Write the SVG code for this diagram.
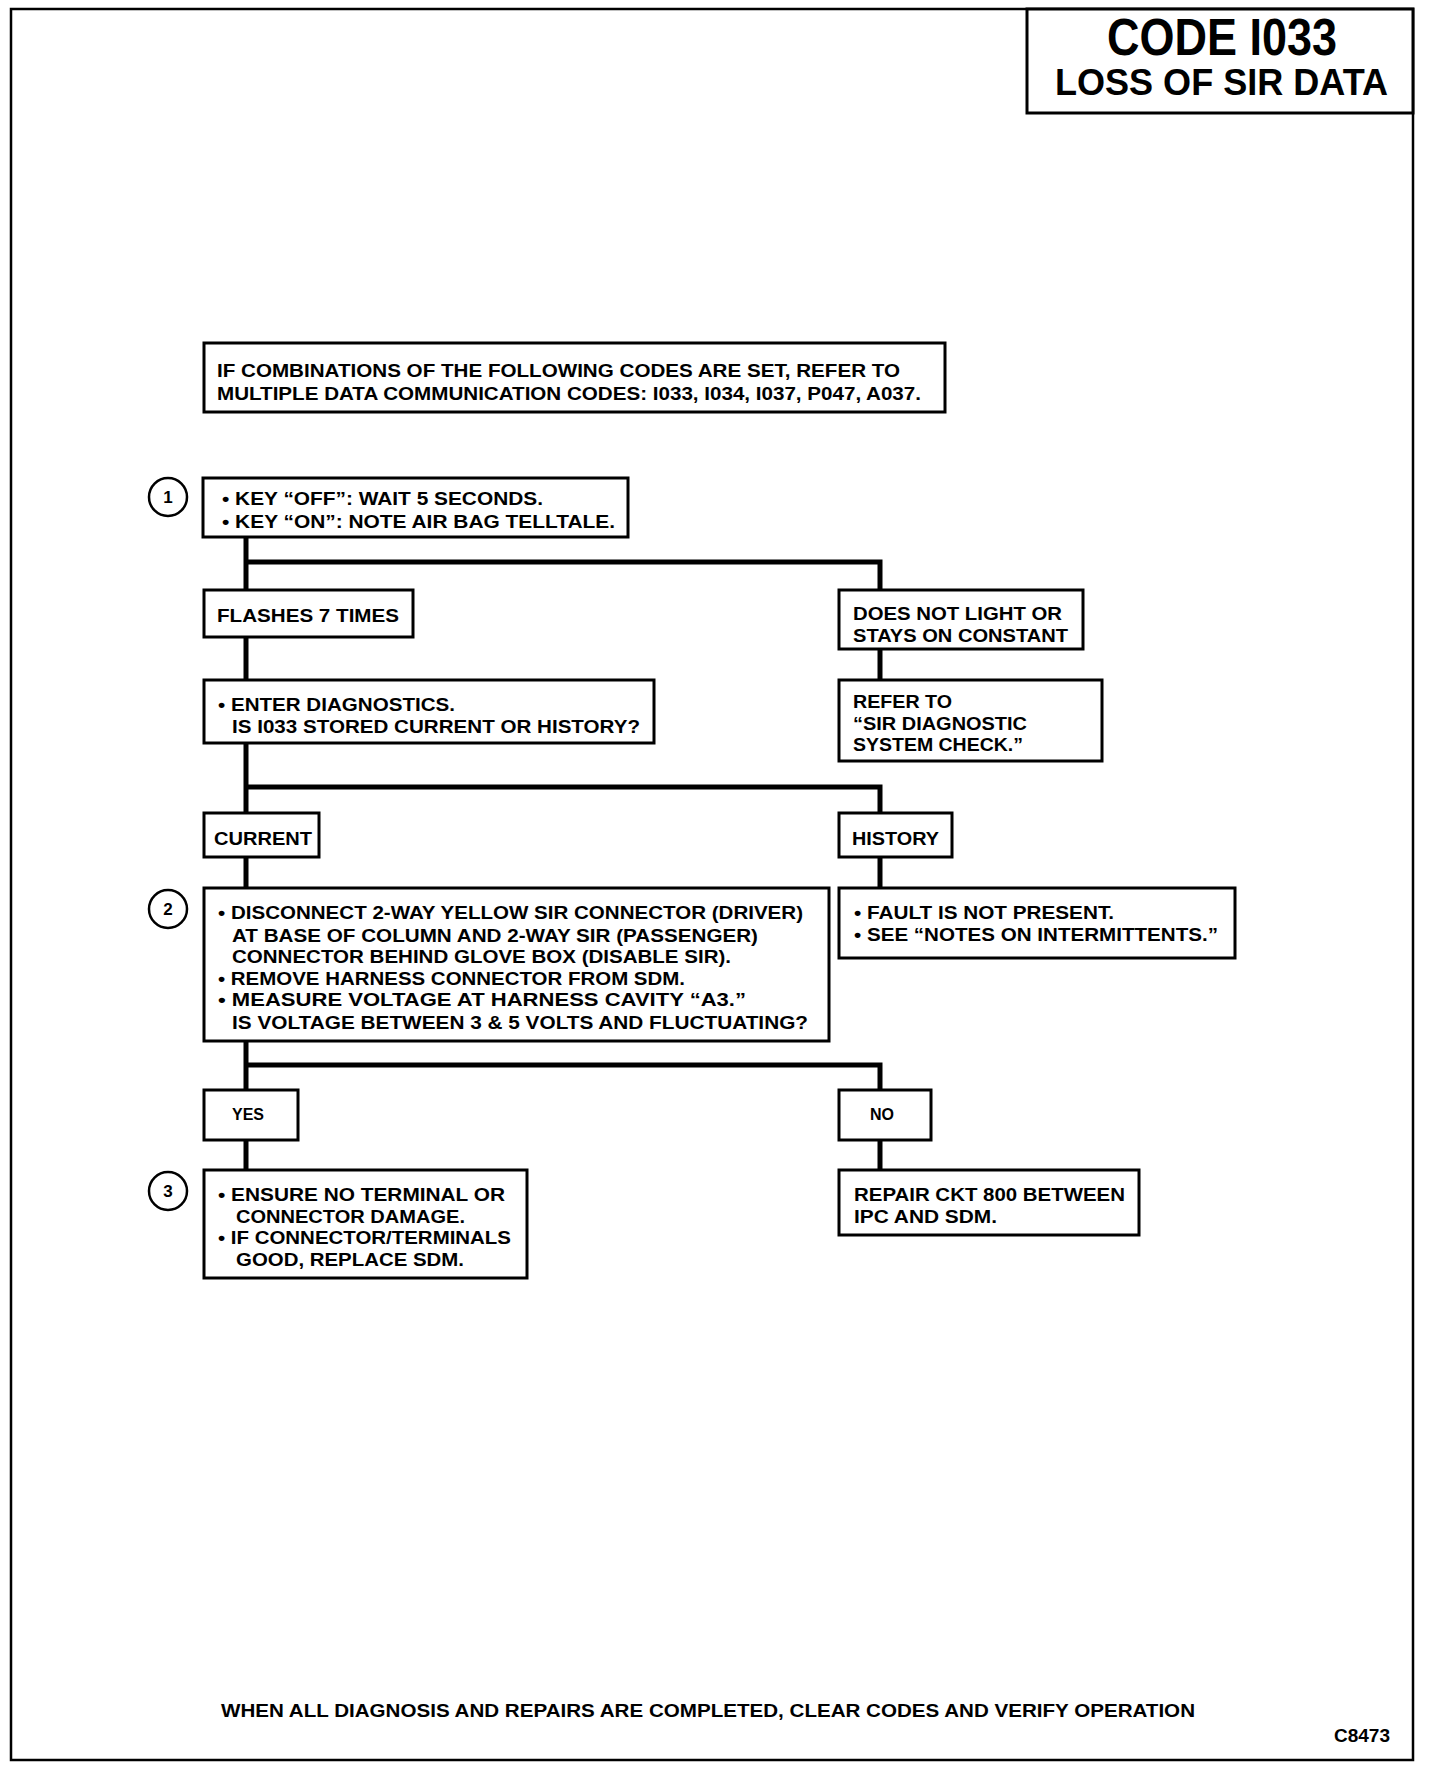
<svg xmlns="http://www.w3.org/2000/svg" width="1440" height="1770" viewBox="0 0 1440 1770">
<style>
.bg{fill:#ffffff}
.frame{fill:none;stroke:#000;stroke-width:2.5}
.box{fill:#ffffff;stroke:#000;stroke-width:3}
.tbox{fill:#ffffff;stroke:#000;stroke-width:3}
.circ{fill:#ffffff;stroke:#000;stroke-width:2.5}
.conn{fill:none;stroke:#000;stroke-width:5;stroke-linecap:butt;stroke-linejoin:miter}
text{font-family:"Liberation Sans",Arial,Helvetica,sans-serif;font-weight:bold;fill:#000}
.t{font-size:19px}
.s{font-size:16px}
.n{font-size:17px;text-anchor:middle}
.h1{font-size:51px}
.h2{font-size:36px}
</style>
<rect class="bg" x="0" y="0" width="1440" height="1770"/>
<rect class="frame" x="11" y="9" width="1402" height="1751"/>

<g id="title">
<rect class="tbox" x="1027" y="9" width="386" height="104"/>
<text class="h1" x="1107" y="55" textLength="230" lengthAdjust="spacingAndGlyphs">CODE I033</text>
<text class="h2" x="1055" y="95" textLength="333" lengthAdjust="spacingAndGlyphs">LOSS OF SIR DATA</text>
</g>

<g id="connectors">
<path class="conn" d="M246,537 V590 M246,562 H880 V590"/>
<path class="conn" d="M880,650 V680"/>
<path class="conn" d="M246,637 V680"/>
<path class="conn" d="M246,743 V813 M246,787 H880 V813"/>
<path class="conn" d="M246,857 V888 M880,857 V888"/>
<path class="conn" d="M246,1041 V1090 M246,1065 H880 V1090"/>
<path class="conn" d="M246,1140 V1170 M880,1140 V1170"/>
</g>

<g id="note">
<rect class="box" x="204" y="343" width="741" height="69"/>
<text class="t" x="217" y="377" textLength="683" lengthAdjust="spacingAndGlyphs">IF COMBINATIONS OF THE FOLLOWING CODES ARE SET, REFER TO</text>
<text class="t" x="217" y="400" textLength="704" lengthAdjust="spacingAndGlyphs">MULTIPLE DATA COMMUNICATION CODES: I033, I034, I037, P047, A037.</text>
</g>

<g id="step1-marker">
<circle class="circ" cx="168" cy="497" r="19"/>
<text class="n" x="168" y="503">1</text>
</g>
<g id="step1">
<rect class="box" x="203" y="478" width="425" height="59"/>
<text class="t" x="222" y="505" textLength="321" lengthAdjust="spacingAndGlyphs">• KEY “OFF”: WAIT 5 SECONDS.</text>
<text class="t" x="222" y="528" textLength="393" lengthAdjust="spacingAndGlyphs">• KEY “ON”: NOTE AIR BAG TELLTALE.</text>
</g>

<g id="flashes">
<rect class="box" x="204" y="590" width="209" height="47"/>
<text class="t" x="217" y="622" textLength="182" lengthAdjust="spacingAndGlyphs">FLASHES 7 TIMES</text>
</g>

<g id="doesnotlight">
<rect class="box" x="839" y="590" width="244" height="59"/>
<text class="t" x="853" y="620" textLength="209" lengthAdjust="spacingAndGlyphs">DOES NOT LIGHT OR</text>
<text class="t" x="853" y="642" textLength="215" lengthAdjust="spacingAndGlyphs">STAYS ON CONSTANT</text>
</g>

<g id="referto">
<rect class="box" x="839" y="680" width="263" height="81"/>
<text class="t" x="853" y="708" textLength="99" lengthAdjust="spacingAndGlyphs">REFER TO</text>
<text class="t" x="853" y="730" textLength="174" lengthAdjust="spacingAndGlyphs">“SIR DIAGNOSTIC</text>
<text class="t" x="853" y="751" textLength="170" lengthAdjust="spacingAndGlyphs">SYSTEM CHECK.”</text>
</g>

<g id="enterdiag">
<rect class="box" x="204" y="680" width="450" height="63"/>
<text class="t" x="218" y="711" textLength="237" lengthAdjust="spacingAndGlyphs">• ENTER DIAGNOSTICS.</text>
<text class="t" x="232" y="733" textLength="408" lengthAdjust="spacingAndGlyphs">IS I033 STORED CURRENT OR HISTORY?</text>
</g>

<g id="current">
<rect class="box" x="204" y="813" width="115" height="44"/>
<text class="t" x="214" y="845" textLength="98" lengthAdjust="spacingAndGlyphs">CURRENT</text>
</g>

<g id="history">
<rect class="box" x="839" y="813" width="113" height="44"/>
<text class="t" x="852" y="845" textLength="87" lengthAdjust="spacingAndGlyphs">HISTORY</text>
</g>

<g id="step2-marker">
<circle class="circ" cx="168" cy="909" r="19"/>
<text class="n" x="168" y="915">2</text>
</g>
<g id="step2">
<rect class="box" x="204" y="888" width="625" height="153"/>
<text class="t" x="218" y="919" textLength="585" lengthAdjust="spacingAndGlyphs">• DISCONNECT 2-WAY YELLOW SIR CONNECTOR (DRIVER)</text>
<text class="t" x="232" y="942" textLength="526" lengthAdjust="spacingAndGlyphs">AT BASE OF COLUMN AND 2-WAY SIR (PASSENGER)</text>
<text class="t" x="232" y="963" textLength="499" lengthAdjust="spacingAndGlyphs">CONNECTOR BEHIND GLOVE BOX (DISABLE SIR).</text>
<text class="t" x="218" y="985" textLength="467" lengthAdjust="spacingAndGlyphs">• REMOVE HARNESS CONNECTOR FROM SDM.</text>
<text class="t" x="218" y="1006" textLength="528" lengthAdjust="spacingAndGlyphs">• MEASURE VOLTAGE AT HARNESS CAVITY “A3.”</text>
<text class="t" x="232" y="1029" textLength="576" lengthAdjust="spacingAndGlyphs">IS VOLTAGE BETWEEN 3 &amp; 5 VOLTS AND FLUCTUATING?</text>
</g>

<g id="fault">
<rect class="box" x="839" y="888" width="396" height="70"/>
<text class="t" x="854" y="919" textLength="260" lengthAdjust="spacingAndGlyphs">• FAULT IS NOT PRESENT.</text>
<text class="t" x="854" y="941" textLength="364" lengthAdjust="spacingAndGlyphs">• SEE “NOTES ON INTERMITTENTS.”</text>
</g>

<g id="yes">
<rect class="box" x="204" y="1090" width="94" height="50"/>
<text class="s" x="248" y="1120" text-anchor="middle">YES</text>
</g>

<g id="no">
<rect class="box" x="839" y="1090" width="92" height="50"/>
<text class="s" x="882" y="1120" text-anchor="middle">NO</text>
</g>

<g id="step3-marker">
<circle class="circ" cx="168" cy="1191" r="19"/>
<text class="n" x="168" y="1197">3</text>
</g>
<g id="step3">
<rect class="box" x="204" y="1170" width="323" height="108"/>
<text class="t" x="218" y="1201" textLength="287" lengthAdjust="spacingAndGlyphs">• ENSURE NO TERMINAL OR</text>
<text class="t" x="236" y="1223" textLength="229" lengthAdjust="spacingAndGlyphs">CONNECTOR DAMAGE.</text>
<text class="t" x="218" y="1244" textLength="293" lengthAdjust="spacingAndGlyphs">• IF CONNECTOR/TERMINALS</text>
<text class="t" x="236" y="1266" textLength="228" lengthAdjust="spacingAndGlyphs">GOOD, REPLACE SDM.</text>
</g>

<g id="repair">
<rect class="box" x="839" y="1170" width="300" height="65"/>
<text class="t" x="854" y="1201" textLength="271" lengthAdjust="spacingAndGlyphs">REPAIR CKT 800 BETWEEN</text>
<text class="t" x="854" y="1223" textLength="143" lengthAdjust="spacingAndGlyphs">IPC AND SDM.</text>
</g>

<g id="footer">
<text class="t" x="221" y="1717" textLength="974" lengthAdjust="spacingAndGlyphs">WHEN ALL DIAGNOSIS AND REPAIRS ARE COMPLETED, CLEAR CODES AND VERIFY OPERATION</text>
<text class="t" x="1390" y="1742" text-anchor="end">C8473</text>
</g>
</svg>
